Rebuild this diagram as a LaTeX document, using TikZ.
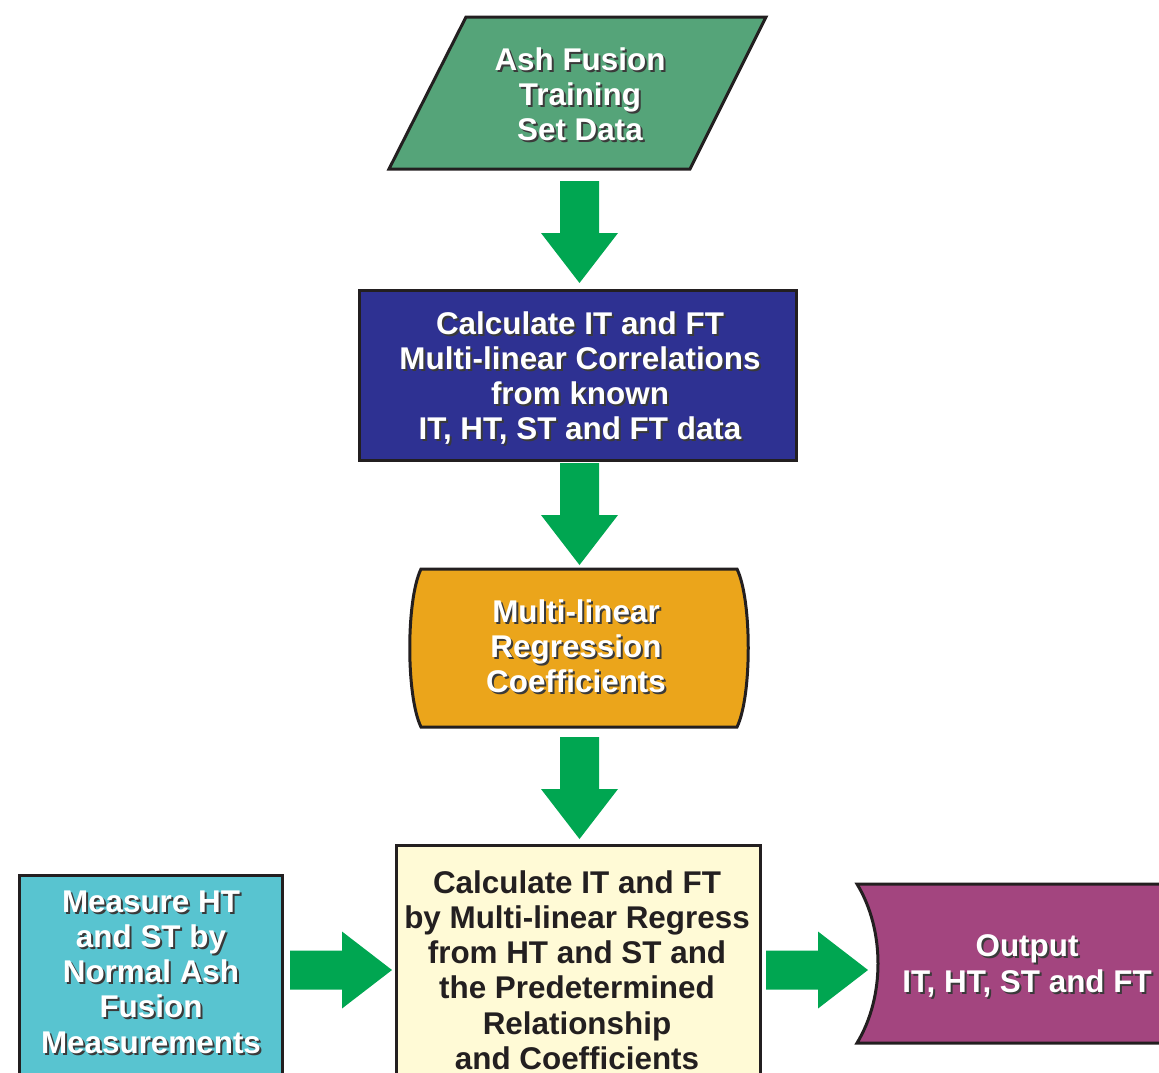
\documentclass[tikz,border=0pt]{standalone}
\usepackage{fontspec}
\setmainfont{Liberation Sans}
\usetikzlibrary{calc}
\definecolor{linec}{HTML}{231F20}
\definecolor{arrg}{HTML}{00A651}
\definecolor{parg}{HTML}{55A479}
\definecolor{blueb}{HTML}{2E3192}
\definecolor{orangeb}{HTML}{EBA51B}
\definecolor{cyanb}{HTML}{58C4D0}
\definecolor{yellb}{HTML}{FFFAD6}
\definecolor{purpb}{HTML}{A3457F}
\definecolor{shadc}{HTML}{3A3A3A}
\tikzset{
  shapeline/.style={draw=linec, line width=3pt, line join=miter},
  lbl/.style={align=center, inner sep=0pt, font=\fontsize{31.4}{35.2}\selectfont\bfseries},
  wlbl/.style={lbl, text=white},
  slbl/.style={lbl, text=shadc},
  dlbl/.style={lbl, text=linec},
  blockarrow/.style={fill=arrg, draw=none}
}
\newcommand{\downblock}[1]{%
  \fill[blockarrow] (#1) ++(-19.5,0) -- ++(39,0) -- ++(0,52) -- ++(19,0) -- ++(-38.5,50) -- ++(-38.5,-50) -- ++(19,0) -- cycle;}
\newcommand{\rightblock}[1]{%
  \fill[blockarrow] (#1) ++(0,-19.5) -- ++(52,0) -- ++(0,-19) -- ++(50,38.5) -- ++(-50,38.5) -- ++(0,-19) -- ++(-52,0) -- cycle;}
\begin{document}
\begin{tikzpicture}[x=1pt, y=-1pt]
\useasboundingbox (0,0) rectangle (1159,1072);
% shapes
\filldraw[shapeline, fill=parg] (466,17) -- (766,17) -- (690,169) -- (389,169) -- cycle;
\filldraw[shapeline, fill=blueb] (359,290) rectangle (796,460);
\filldraw[shapeline, fill=orangeb] (421,569) -- (737,569) .. controls (752,600) and (752,696) .. (737,727) -- (421,727) .. controls (406,696) and (406,600) .. (421,569) -- cycle;
\filldraw[shapeline, fill=cyanb] (19,1095) -- (19,875) -- (282,875) -- (282,1095);
\filldraw[shapeline, fill=yellb] (396,1095) -- (396,845) -- (760,845) -- (760,1095);
\filldraw[shapeline, fill=purpb] (1180,884) -- (857,884) .. controls (885,930) and (885,997) .. (857,1043) -- (1180,1043);
% arrow anchors
\coordinate (a1) at (579.5,181);
\coordinate (a2) at (579.5,463);
\coordinate (a3) at (579.5,737);
\coordinate (a4) at (290,970);
\coordinate (a5) at (766,970);
\downblock{a1}
\downblock{a2}
\downblock{a3}
\rightblock{a4}
\rightblock{a5}
% texts
\node[slbl] (ash-s) at (582,96) {Ash Fusion\\Training\\Set Data};
\node[wlbl] (ash) at (580,94) {Ash Fusion\\Training\\Set Data};
\node[slbl] (calc1-s) at (582,380) {Calculate IT and FT\\Multi-linear Correlations\\from known\\IT, HT, ST and FT data};
\node[wlbl] (calc1) at (580,378) {Calculate IT and FT\\Multi-linear Correlations\\from known\\IT, HT, ST and FT data};
\node[slbl] (coef-s) at (578,648) {Multi-linear\\Regression\\Coefficients};
\node[wlbl] (coef) at (576,646) {Multi-linear\\Regression\\Coefficients};
\node[slbl] (meas-s) at (153,974) {Measure HT\\and ST by\\Normal Ash\\Fusion\\Measurements};
\node[wlbl] (meas) at (151,972) {Measure HT\\and ST by\\Normal Ash\\Fusion\\Measurements};
\node[dlbl] (calc2) at (577,970) {Calculate IT and FT\\by Multi-linear Regress\\from HT and ST and\\the Predetermined\\Relationship\\and Coefficients};
\node[slbl] (out-s) at (1029,968) {Output\\IT, HT, ST and FT};
\node[wlbl] (out) at (1027,966) {Output\\IT, HT, ST and FT};
\end{tikzpicture}
\end{document}
